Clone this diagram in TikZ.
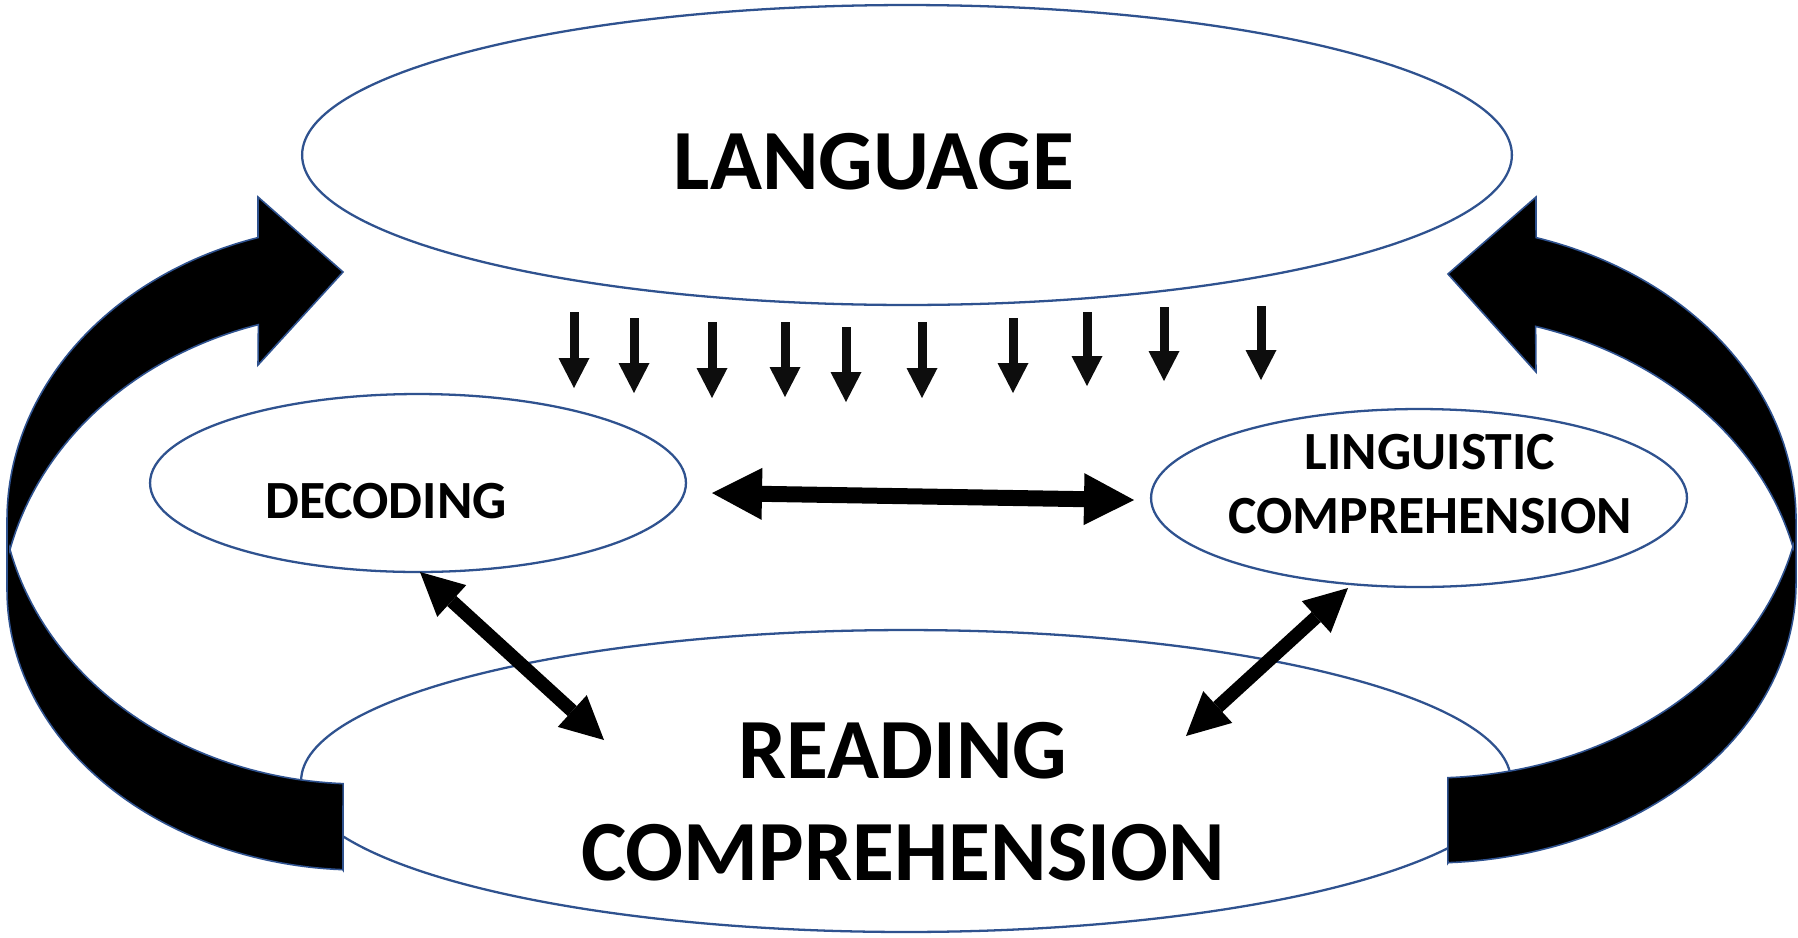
\documentclass[tikz,border=0pt]{standalone}
\usepackage{fontspec}
\setmainfont{Carlito}
\usetikzlibrary{arrows.meta,shapes.geometric}
\definecolor{edgeblue}{RGB}{47,82,143}
\definecolor{inkblack}{RGB}{13,13,13}
\begin{document}
\begin{tikzpicture}[x=0.02cm,y=-0.02cm,
  bubble/.style={draw=edgeblue, line width=1.3pt, ellipse, inner sep=0pt},
  bigtext/.style={font=\fontsize{48.8}{58}\selectfont\bfseries, align=center, inner sep=0pt},
  midtext/.style={font=\fontsize{30.6}{36}\selectfont\bfseries, align=center, inner sep=0pt},
  bandarrow/.style={fill=black, draw=edgeblue, line width=0.9pt, line join=miter},
  downarrow/.style={draw=inkblack, line width=0.18cm, -{Triangle[length=0.6cm,width=0.62cm,line width=0pt]}},
  hdouble/.style={draw=black, line width=0.32cm, {Triangle[length=1cm,width=1.04cm,line width=0pt]}-{Triangle[length=1cm,width=1.04cm,line width=0pt]}},
  ddouble/.style={draw=black, line width=0.27cm, {Triangle[length=0.86cm,width=0.86cm,line width=0pt]}-{Triangle[length=0.86cm,width=0.86cm,line width=0pt]}}
]
\useasboundingbox (0,0) rectangle (1798,937);
\fill[white] (0,0) rectangle (1798,937);

% ellipses
\node[bubble, minimum width=24.2cm, minimum height=6cm] (lang) at (907,155) {};
\node[bubble, minimum width=24.2cm, minimum height=6.04cm] (read) at (906,781) {};
\node[bubble, minimum width=10.72cm, minimum height=3.56cm] (dec) at (418,483) {};
\node[bubble, minimum width=10.72cm, minimum height=3.56cm] (ling) at (1419,498) {};

% big curved arrow (left)
\path[bandarrow] (343,870)
  -- plot[domain=92.8:180, samples=60, variable=\t] ({360+353*cos(\t)},{590+280*sin(\t)})
  -- plot[domain=180:253.2, samples=60, variable=\t] ({360+353*cos(\t)},{520+295*sin(\t)})
  -- (258,197) -- (343,272) -- (258,365)
  -- plot[domain=253.6:193.5, samples=60, variable=\t] ({360+360*cos(\t)},{622+310*sin(\t)})
  -- plot[domain=166.5:92.7, samples=60, variable=\t] ({360+360*cos(\t)},{478+306*sin(\t)})
  -- cycle;

% big curved arrow (right, mirrored and slightly widened)
\begin{scope}[shift={(1536,0)}, xscale=-1.036, shift={(-258,0)}]
\path[bandarrow] (343,863)
  -- plot[domain=92.8:180, samples=60, variable=\t] ({360+353*cos(\t)},{583+280*sin(\t)})
  -- plot[domain=180:253.2, samples=60, variable=\t] ({360+353*cos(\t)},{520+295*sin(\t)})
  -- (258,197) -- (343,274) -- (258,372)
  -- plot[domain=253.6:193.5, samples=60, variable=\t] ({360+360*cos(\t)},{618+304*sin(\t)})
  -- plot[domain=166.5:92.7, samples=60, variable=\t] ({360+360*cos(\t)},{476+302*sin(\t)})
  -- cycle;
\end{scope}

% small down arrows from LANGUAGE
\foreach \i/\x/\ya/\yb in {1/574/312/388, 2/634/318/393, 3/712/322/398, 4/785/322/397, 5/846/327/402, 6/922/322/398, 7/1013/318/393, 8/1087/312/386, 9/1164/307/381, 10/1261/306/380}{
  \coordinate (s\i) at (\x,\ya);
  \coordinate (e\i) at (\x,\yb);
  \draw[downarrow] (s\i) -- (e\i);
}

% double arrows
\coordinate (hl) at (712,493);
\coordinate (hr) at (1134,500);
\draw[hdouble] (hl) -- (hr);
\coordinate (dl1) at (420,572);
\coordinate (dl2) at (604,740);
\draw[ddouble] (dl1) -- (dl2);
\coordinate (dr1) at (1348,588);
\coordinate (dr2) at (1186,736);
\draw[ddouble] (dr1) -- (dr2);

% texts
\node[bigtext] (langtxt) at (874,162) {LANGUAGE};
\node[bigtext] (readtxt) at (903,802) {READING\\COMPREHENSION};
\node[midtext] (dectxt) at (386,501) {DECODING};
\node[midtext] (lingtxt) at (1430,484) {LINGUISTIC\\COMPREHENSION};
\end{tikzpicture}
\end{document}
